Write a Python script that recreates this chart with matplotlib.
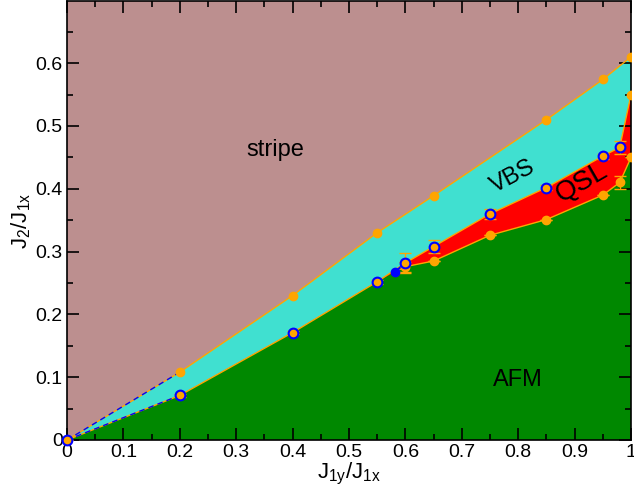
import matplotlib
matplotlib.use('Agg')
import matplotlib.pyplot as plt
from matplotlib.ticker import MultipleLocator, FuncFormatter

plt.rcParams['font.family'] = ['Liberation Sans', 'DejaVu Sans']
plt.rcParams['mathtext.default'] = 'regular'

# stripe / VBS boundary
x_upper = [0.0, 0.2, 0.4, 0.55, 0.65, 0.85, 0.95, 1.0]
y_upper = [0.0, 0.108, 0.23, 0.33, 0.389, 0.51, 0.574, 0.61]

# VBS / (AFM, QSL) boundary
x_vbs = [0.0, 0.2, 0.4, 0.55, 0.6, 0.65, 0.75, 0.85, 0.95, 0.98]
y_vbs = [0.0, 0.071, 0.171, 0.252, 0.282, 0.308, 0.36, 0.402, 0.452, 0.466]
err_vbs = [0.0, 0.003, 0.003, 0.003, 0.016, 0.01, 0.008, 0.004, 0.004, 0.01]

# QSL / AFM boundary
x_qsl = [0.6, 0.65, 0.75, 0.85, 0.95, 0.98, 1.0]
y_qsl = [0.276, 0.285, 0.326, 0.351, 0.39, 0.41, 0.45]
err_qsl = [0.008, 0.0, 0.0, 0.0, 0.0, 0.01, 0.0]

# multicritical point and right edge of QSL
x_crit, y_crit = 0.582, 0.268
x_edge, y_edge = 1.0, 0.55

c_stripe = '#bc8f8f'
c_vbs = '#40e0d0'
c_qsl = '#ff0000'
c_afm = '#008800'
c_line = '#ffa500'
c_blue = '#0000ff'

fig = plt.figure(figsize=(6.34, 4.98), dpi=100)
ax = fig.add_axes([0.1057, 0.1165, 0.8896, 0.8815])
ax.set_facecolor(c_stripe)

# VBS region: everything below the upper line
ax.fill(x_upper + [1.0, 0.0], y_upper + [0.0, 0.0], color=c_vbs, lw=0)

# QSL region: below the VBS lower boundary
ax.fill(x_vbs + [x_edge, 1.0], y_vbs + [y_edge, 0.0], color=c_qsl, lw=0)

# AFM region
x_afm = [v for v in x_vbs if v < x_crit] + [x_crit] + x_qsl + [1.0]
y_afm = [y_vbs[i] for i, v in enumerate(x_vbs) if v < x_crit] + [y_crit] + y_qsl + [0.0]
ax.fill(x_afm, y_afm, color=c_afm, lw=0)

# boundary lines
ax.plot(x_upper, y_upper, color=c_line, lw=1)
ax.plot(x_vbs + [x_edge], y_vbs + [y_edge], color=c_line, lw=1)
ax.plot([x_crit] + x_qsl, [y_crit] + y_qsl, color=c_line, lw=1)
ax.plot(x_upper[:2], y_upper[:2], color=c_blue, lw=1, ls=(0, (4, 3)))
ax.plot(x_vbs[:2], y_vbs[:2], color=c_blue, lw=1, ls=(0, (4, 3)))
ax.plot([x_crit, x_vbs[4]], [y_crit, y_vbs[4]], color=c_blue, lw=1.5)

# markers
ax.plot(x_upper, y_upper, 'o', color=c_line, ms=6, zorder=4)
ax.errorbar(x_qsl, y_qsl, yerr=err_qsl, fmt='o', color=c_line, ms=6,
            capsize=4, elinewidth=1, zorder=4)
ax.plot([x_edge], [y_edge], 'o', color=c_line, ms=6, zorder=4)
ax.errorbar(x_vbs, y_vbs, yerr=err_vbs, fmt='none', ecolor=c_line,
            capsize=4, elinewidth=1, zorder=5)
ax.plot(x_vbs[1:], y_vbs[1:], 'o', mfc=c_line, mec=c_blue, mew=1.5, ms=7, zorder=6)
ax.plot(x_vbs[:1], y_vbs[:1], 'o', mfc=c_line, mec=c_blue, mew=1.5, ms=7,
        zorder=6, clip_on=False)
ax.plot([x_crit], [y_crit], 'o', color=c_blue, ms=6, zorder=6)

ax.set_xlim(0, 1)
ax.set_ylim(0, 0.699)

ax.text(0.37, 0.462, 'stripe', fontsize=17, ha='center', va='center')
ax.text(0.79, 0.42, 'VBS', fontsize=17, ha='center', va='center', rotation=28)
ax.text(0.912, 0.41, 'QSL', fontsize=20, ha='center', va='center', rotation=30)
ax.text(0.80, 0.096, 'AFM', fontsize=17, ha='center', va='center')

fmt = FuncFormatter(lambda v, p: f'{v:g}')
ax.xaxis.set_major_locator(MultipleLocator(0.1))
ax.xaxis.set_minor_locator(MultipleLocator(0.05))
ax.yaxis.set_major_locator(MultipleLocator(0.1))
ax.yaxis.set_minor_locator(MultipleLocator(0.05))
ax.xaxis.set_major_formatter(fmt)
ax.yaxis.set_major_formatter(fmt)
ax.tick_params(which='both', direction='in', top=True, right=True, labelsize=14)
ax.tick_params(which='major', length=8.5, width=1.2, pad=3)
ax.tick_params(which='minor', length=4.3, width=1.2)
for s in ax.spines.values():
    s.set_linewidth(1.2)

ax.set_xlabel(r'$J_{1y}/J_{1x}$', fontsize=16, labelpad=0)
ax.set_ylabel(r'$J_2/J_{1x}$', fontsize=16, labelpad=2)

fig.savefig('out.png', dpi=100)
